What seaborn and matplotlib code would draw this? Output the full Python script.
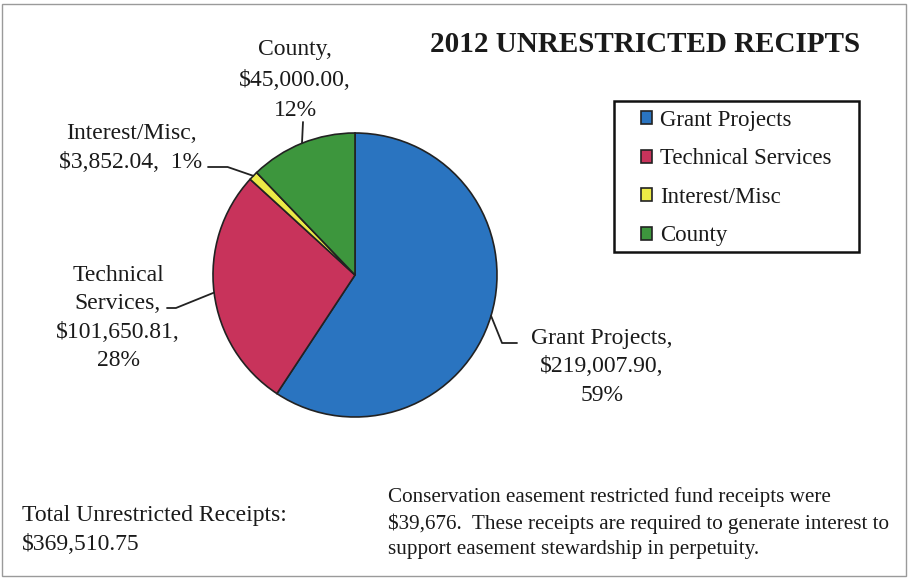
"""2012 unrestricted receipts pie chart."""
import matplotlib
matplotlib.use("Agg")
import matplotlib.pyplot as plt
import numpy as np
import seaborn as sns
from matplotlib.patches import Rectangle

categories = ["Grant Projects", "Technical Services", "Interest/Misc", "County"]
amounts = [219007.90, 101650.81, 3852.04, 45000.00]
percents = [59, 28, 1, 12]
colors = ["#2a74c0", "#c8335b", "#ecea46", "#3d963d"]
total_text = "Total Unrestricted Receipts:\n$369,510.75"
note_text = ("Conservation easement restricted fund receipts were\n"
             "$39,676.  These receipts are required to generate interest to\n"
             "support easement stewardship in perpetuity.")

sns.set_theme(style="white")
plt.rcParams["font.family"] = ["Liberation Serif", "DejaVu Serif"]

W, H = 909, 580
fig = plt.figure(figsize=(W / 100, H / 100), dpi=100)
fig.patch.set_facecolor("white")

# pie centre (355, 275) px from top-left, radius 142 px
cx, cy, r = 355, 275, 142
ax = fig.add_axes([(cx - r) / W, (H - cy - r) / H, 2 * r / W, 2 * r / H])
wedges, _ = ax.pie(amounts, colors=colors, startangle=90, counterclock=False,
                   wedgeprops=dict(edgecolor="#222222", linewidth=1.2))
ax.set_xlim(-1, 1)
ax.set_ylim(-1, 1)
ax.set_aspect("equal")
ax.axis("off")
for w in wedges:
    w.set_clip_on(False)


def edge_point(w):
    mid = np.deg2rad((w.theta1 + w.theta2) / 2)
    return (w.center[0] + w.r * np.cos(mid), w.center[1] + w.r * np.sin(mid))


def px(x, y):
    return (x, H - y)


def fx(x, y):
    return (x / W, 1 - y / H)


# slice labels
fsz = 17
labels = [
    f"{categories[0]},\n${amounts[0]:,.2f},\n{percents[0]}%",
    "Technical\nServices,\n$" + f"{amounts[1]:,.2f},\n{percents[1]}%",
    f"Interest/Misc,\n${amounts[2]:,.2f},  {percents[2]}%",
    f"County,\n${amounts[3]:,.2f},\n{percents[3]}%",
]
label_pos = [(602, 367), (118, 318), (131, 148), (295, 80)]
label_lsp = [1.46, 1.46, 1.46, 1.58]
for txt, (x, y), lsp in zip(labels, label_pos, label_lsp):
    fig.text(*fx(x, y), txt, ha="center", va="center", fontsize=fsz,
             linespacing=lsp, color="#1a1a1a")

# leader lines
line_kw = dict(arrowstyle="-", color="#222222", lw=1.3, shrinkA=0, shrinkB=0)
leaders = [
    ((517, 343), "angle,angleA=180,angleB=112,rad=0"),
    ((167, 308), "angle,angleA=0,angleB=22,rad=0"),
    ((208, 167), "angle,angleA=0,angleB=-19,rad=0"),
    ((303, 122), "arc3"),
]
for w, (start, style) in zip(wedges, leaders):
    ax.annotate("", xy=edge_point(w), xycoords="data",
                xytext=px(*start), textcoords="figure pixels",
                arrowprops=dict(connectionstyle=style, **line_kw))

# title
fig.text(*fx(645, 44), "2012 UNRESTRICTED RECIPTS", ha="center",
         va="center", fontsize=21, fontweight="bold", color="#1a1a1a")

# legend box drawn separately, entries placed inside
fig.patches.append(Rectangle(fx(614, 252), 245 / W, 151 / H,
                             transform=fig.transFigure, fill=False,
                             edgecolor="#111111", lw=1.8))
leg = ax.legend(wedges, categories, loc="upper left",
                bbox_to_anchor=fx(641, 110), bbox_transform=fig.transFigure,
                frameon=False, fontsize=16.5, labelspacing=0.76,
                handlelength=0.5, handleheight=0.5, handletextpad=0.35,
                borderpad=0, borderaxespad=0)
for t in leg.get_texts():
    t.set_color("#1a1a1a")

# footnotes
fig.text(*fx(22, 530), total_text, ha="left", va="center", fontsize=17,
         linespacing=1.5, color="#1a1a1a")
fig.text(*fx(388, 523), note_text, ha="left", va="center", fontsize=15.2,
         linespacing=1.45, color="#1a1a1a")

# page frame
fig.patches.append(Rectangle((2 / W, 4 / H), (W - 5) / W, (H - 8) / H,
                             transform=fig.transFigure, fill=False,
                             edgecolor="#9a9a9a", lw=1.0))

fig.savefig("out.png", dpi=100, facecolor="white")
